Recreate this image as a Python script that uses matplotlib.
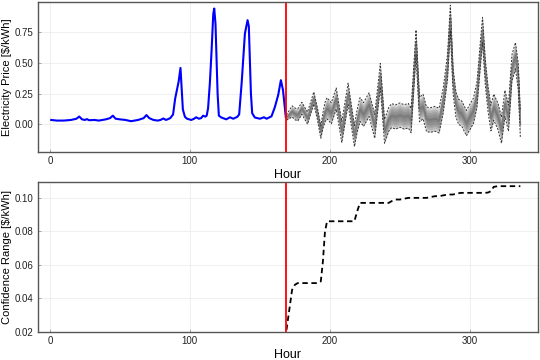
import numpy as np
import matplotlib
matplotlib.use("Agg")
import matplotlib.pyplot as plt

# observed prices (history week)
hist_hours = [1, 5, 10, 15, 19, 21, 23, 25, 26.5, 28, 32, 35, 40, 43, 45, 47, 50, 54, 58,
              63, 67, 69, 71, 74, 77, 79, 81, 83, 86, 88, 89.5, 92, 93.3, 95, 96.5, 98,
              101, 103, 104.5, 106.5, 108, 109.5, 111, 112, 113, 114.3, 115.5, 116.7,
              117.4, 118.3, 119.8, 120.7, 122.5, 126, 128.6, 131, 133.8, 135.2, 137,
              139.3, 141.2, 142.1, 143.6, 144.5, 146.4, 150, 152.9, 154.8, 158.3, 160.7,
              163.1, 165, 166.5, 168.5]
hist_price = [0.035, 0.03, 0.03, 0.035, 0.045, 0.063, 0.04, 0.035, 0.042, 0.033, 0.035,
              0.03, 0.04, 0.05, 0.07, 0.045, 0.04, 0.035, 0.025, 0.035, 0.05, 0.075, 0.05,
              0.035, 0.03, 0.035, 0.047, 0.035, 0.05, 0.08, 0.21, 0.35, 0.46, 0.12, 0.06,
              0.045, 0.035, 0.045, 0.057, 0.045, 0.05, 0.07, 0.062, 0.07, 0.13, 0.34, 0.6,
              0.9, 0.945, 0.82, 0.25, 0.07, 0.055, 0.04, 0.057, 0.045, 0.06, 0.08, 0.34,
              0.74, 0.85, 0.8, 0.25, 0.09, 0.055, 0.045, 0.057, 0.045, 0.065, 0.14, 0.24,
              0.36, 0.28, 0.06]

# forecast (second week): median and confidence range
fc_hours = [169, 171, 173, 175, 177, 180, 184, 188.5, 191, 193.5, 195, 196.5, 198, 201,
            204.5, 208.5, 213, 217.5, 219.5, 221.5, 224, 228, 232, 236, 239, 242, 244,
            247, 250, 253, 256, 258, 261.5, 264, 266.5, 269, 272, 275, 278, 281, 284, 286,
            288, 290, 292, 294, 297.5, 300, 302.5, 305, 307.5, 309, 311, 313, 315, 317,
            320, 322.5, 325, 327.5, 330, 332.5, 334.5, 336]
fc_price = [0.055, 0.08, 0.105, 0.085, 0.076, 0.13, 0.05, 0.215, 0.09, -0.064, 0.03, 0.1,
            0.13, 0.09, 0.21, -0.064, 0.25, -0.096, 0.03, 0.12, 0.08, 0.16, -0.017, 0.40,
            -0.058, 0.04, 0.07, 0.06, 0.075, 0.06, 0.07, 0.03, 0.67, 0.12, 0.145, 0.04,
            0.035, 0.045, 0.03, 0.2, 0.47, 0.87, 0.35, 0.16, 0.1, 0.09, 0.01, 0.06, 0.11,
            0.24, 0.58, 0.77, 0.42, 0.2, 0.05, 0.14, 0.065, -0.048, 0.17, 0.05, 0.46,
            0.56, 0.39, 0.0]
fc_range = [0.021, 0.033, 0.045, 0.048, 0.049, 0.049, 0.049, 0.049, 0.049, 0.050, 0.062,
            0.080, 0.086, 0.086, 0.086, 0.086, 0.086, 0.086, 0.092, 0.097, 0.097, 0.097,
            0.097, 0.097, 0.097, 0.097, 0.098, 0.099, 0.099, 0.0995, 0.100, 0.100, 0.100,
            0.100, 0.100, 0.100, 0.1005, 0.101, 0.101, 0.1015, 0.102, 0.102, 0.102, 0.1025,
            0.1028, 0.103, 0.103, 0.103, 0.103, 0.103, 0.103, 0.103, 0.103, 0.1032, 0.104,
            0.1066, 0.107, 0.107, 0.107, 0.107, 0.107, 0.107, 0.107, 0.107]

split_hour = 169


def style_axes(ax):
    ax.grid(True, color="#ececec", linewidth=0.6)
    ax.set_axisbelow(True)
    for s in ax.spines.values():
        s.set_color("#555555")
        s.set_linewidth(1.0)
    ax.tick_params(direction="in", length=2, width=0.6, color="#999999",
                   labelsize=7, pad=3, labelcolor="#222222")


plt.rcParams["font.family"] = ["Liberation Sans", "DejaVu Sans"]
fig = plt.figure(figsize=(5.4, 3.6), dpi=100)
ax1 = fig.add_axes([0.070, 0.578, 0.926, 0.416])
ax2 = fig.add_axes([0.070, 0.079, 0.926, 0.415])

fh = np.array(fc_hours)
fp = np.array(fc_price)
fr = np.array(fc_range)

# top: history + forecast band
ax1.plot(hist_hours, hist_price, color="#0000ff", linewidth=1.5)
for frac in [1.0, 0.8, 0.6, 0.4, 0.2]:
    ax1.fill_between(fh, fp - frac * fr, fp + frac * fr, color="#707070", alpha=0.3, linewidth=0)
ax1.plot(fh, fp, color="#7a7a7a", linewidth=1.2)
ax1.plot(fh, fp + fr, color="#333333", linewidth=0.7, linestyle=(0, (2, 1.5)))
ax1.plot(fh, fp - fr, color="#333333", linewidth=0.7, linestyle=(0, (2, 1.5)))
ax1.axvline(split_hour, color="red", linewidth=1.3)
ax1.set_xlim(-8.6, 348.5)
ax1.set_ylim(-0.226, 0.997)
ax1.set_xticks([0, 100, 200, 300])
ax1.set_yticks([0.0, 0.25, 0.5, 0.75])
ax1.set_yticklabels(["0.00", "0.25", "0.50", "0.75"])
ax1.set_xlabel("Hour", fontsize=9, labelpad=2)
ax1.set_ylabel("Electricity Price [$/kWh]", fontsize=8, labelpad=2)
style_axes(ax1)

# bottom: confidence range
ax2.plot(fh, fr, color="black", linewidth=1.3, linestyle=(0, (3, 2)))
ax2.axvline(split_hour, color="red", linewidth=1.3)
ax2.set_xlim(-8.6, 348.5)
ax2.set_ylim(0.02, 0.1094)
ax2.set_xticks([0, 100, 200, 300])
ax2.set_yticks([0.02, 0.04, 0.06, 0.08, 0.10])
ax2.set_yticklabels(["0.02", "0.04", "0.06", "0.08", "0.10"])
ax2.set_xlabel("Hour", fontsize=9, labelpad=2)
ax2.set_ylabel("Confidence Range [$/kWh]", fontsize=8, labelpad=2)
style_axes(ax2)

fig.savefig("out.png", dpi=100)
